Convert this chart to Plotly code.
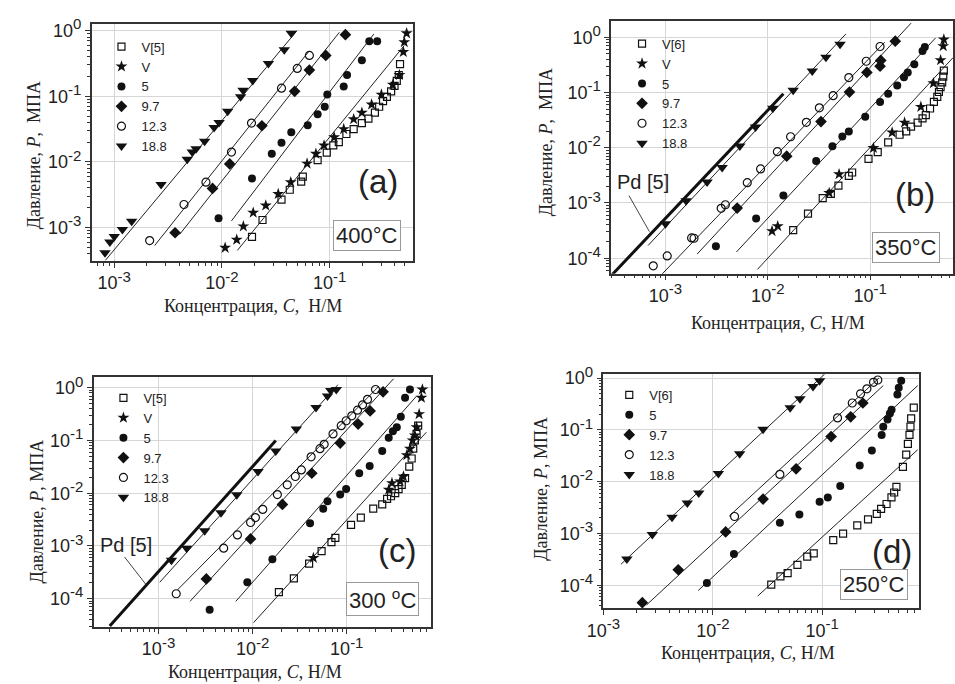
import plotly.graph_objects as go

W, H = 955, 684

# ================= DATA =================
# ---- panel (a) 400 C ----
a_V5_c = [0.019, 0.0238, 0.0357, 0.0426, 0.0544, 0.0563, 0.0773, 0.094, 0.108, 0.1216, 0.143, 0.167, 0.199, 0.229, 0.263, 0.288, 0.313, 0.34, 0.372, 0.40, 0.42, 0.438, 0.45]
a_V5_p = [7.2e-4, 1.3e-3, 2.66e-3, 3.76e-3, 5.0e-3, 5.96e-3, 0.0106, 0.0138, 0.0178, 0.020, 0.0266, 0.0316, 0.0389, 0.0457, 0.0562, 0.0692, 0.0841, 0.0977, 0.119, 0.144, 0.172, 0.211, 0.309]
a_V_c = [0.0107, 0.0137, 0.0158, 0.0195, 0.0255, 0.0333, 0.0435, 0.0617, 0.0745, 0.0887, 0.11, 0.135, 0.167, 0.199, 0.245, 0.302, 0.386, 0.444, 0.483, 0.493, 0.518]
a_V_p = [4.9e-4, 6.5e-4, 1.04e-3, 1.68e-3, 2.16e-3, 3.24e-3, 4.9e-3, 9.4e-3, 0.0133, 0.0178, 0.0237, 0.0316, 0.0447, 0.0562, 0.075, 0.106, 0.15, 0.211, 0.473, 0.668, 0.912]
a_5_c = [9.3e-3, 0.019, 0.029, 0.0357, 0.044, 0.0625, 0.0773, 0.090, 0.095, 0.135, 0.145, 0.199, 0.233, 0.276]
a_5_p = [1.38e-3, 5.6e-3, 0.0133, 0.0195, 0.0282, 0.0363, 0.053, 0.069, 0.106, 0.141, 0.211, 0.355, 0.69, 0.69]
a_97_c = [3.67e-3, 8.17e-3, 0.0118, 0.0235, 0.0473, 0.0648, 0.092, 0.14]
a_97_p = [8.3e-4, 3.94e-3, 9.3e-3, 0.0355, 0.119, 0.251, 0.42, 0.87]
a_123_c = [2.13e-3, 4.44e-3, 7.1e-3, 0.01225, 0.0188, 0.0357, 0.050, 0.0648]
a_123_p = [6.3e-4, 2.24e-3, 4.9e-3, 0.0141, 0.039, 0.133, 0.266, 0.42]
a_188_c = [8.2e-4, 9.1e-4, 1.0e-3, 1.19e-3, 1.45e-3, 2.72e-3, 4.76e-3, 5.3e-3, 5.75e-3, 6.9e-3, 8.45e-3, 9.4e-3, 0.0113, 0.0149, 0.0157, 0.0193, 0.027, 0.0379, 0.044]
a_188_p = [4.1e-4, 6.0e-4, 7.3e-4, 9.3e-4, 1.24e-3, 4.5e-3, 0.011, 0.0141, 0.0158, 0.0207, 0.0335, 0.0398, 0.059, 0.098, 0.123, 0.174, 0.316, 0.513, 0.912]
a_fit_188_c, a_fit_188_p = [8.28e-4, 0.0497], [3.16e-4, 1.0]
a_fit_123_c, a_fit_123_p = [2.37e-3, 0.0634], [5.3e-4, 0.473]
a_fit_97_c, a_fit_97_p = [4.06e-3, 0.123], [7.9e-4, 0.944]
a_fit_5_c, a_fit_5_p = [0.01225, 0.257], [1.26e-3, 0.891]
a_fit_V_c, a_fit_V_p = [0.0139, 0.493], [4.47e-4, 0.596]

# ---- panel (b) 350 C ----
b_V6_c = [0.0177, 0.0247, 0.0344, 0.0413, 0.049, 0.0619, 0.0667, 0.0964, 0.1186, 0.15, 0.194, 0.225, 0.251, 0.291, 0.325, 0.35, 0.385, 0.42, 0.453, 0.47, 0.488, 0.506, 0.518, 0.525]
b_V6_p = [3.24e-4, 6.4e-4, 1.22e-3, 1.46e-3, 2.06e-3, 3.1e-3, 3.56e-3, 6.3e-3, 8.3e-3, 0.0125, 0.0172, 0.0197, 0.0242, 0.0285, 0.034, 0.039, 0.0513, 0.0675, 0.083, 0.102, 0.125, 0.153, 0.194, 0.248]
b_V_c = [0.011, 0.0125, 0.0398, 0.0497, 0.1076, 0.164, 0.217, 0.313, 0.415, 0.488, 0.518, 0.525]
b_V_p = [3.1e-4, 3.8e-4, 1.52e-3, 3.32e-3, 9.9e-3, 0.0189, 0.0285, 0.055, 0.147, 0.384, 0.691, 0.908]
b_5_c = [3.11e-3, 7.69e-3, 0.0142, 0.0297, 0.0428, 0.0535, 0.0619, 0.0895, 0.125, 0.15, 0.184, 0.214, 0.233, 0.27, 0.325, 0.342]
b_5_p = [1.64e-4, 5.24e-4, 1.36e-3, 5.74e-3, 0.0106, 0.016, 0.0197, 0.0365, 0.0675, 0.095, 0.134, 0.188, 0.231, 0.326, 0.562, 0.664]
b_97_c = [5.02e-3, 0.0153, 0.0331, 0.0628, 0.0929, 0.125, 0.127, 0.176]
b_97_p = [8.1e-4, 7.05e-3, 0.0297, 0.1017, 0.231, 0.30, 0.38, 0.849]
b_123_c = [7.6e-4, 1.04e-3, 1.8e-3, 1.9e-3, 3.5e-3, 3.85e-3, 6.3e-3, 8.5e-3, 0.0124, 0.0167, 0.0238, 0.0319, 0.0435, 0.0619, 0.0916, 0.125]
b_123_p = [7.3e-5, 1.1e-4, 2.33e-4, 2.3e-4, 8.0e-4, 9.3e-4, 2.33e-3, 4.14e-3, 8.5e-3, 0.0158, 0.0289, 0.0527, 0.0875, 0.186, 0.368, 0.68]
b_188_c = [1.0e-3, 1.59e-3, 2.55e-3, 3.58e-3, 5.33e-3, 7.59e-3, 0.0112, 0.0177, 0.0272, 0.037, 0.0508]
b_188_p = [4.2e-4, 1.1e-3, 2.4e-3, 4.4e-3, 0.0108, 0.0238, 0.052, 0.11, 0.244, 0.434, 0.75]
b_pd_c, b_pd_p = [3.0e-4, 0.0142], [5.0e-5, 0.095]
b_fit_188_c, b_fit_188_p = [6.76e-4, 0.058], [1.7e-4, 1.15]
b_fit_123_c, b_fit_123_p = [9.2e-4, 0.139], [5.1e-5, 0.815]
b_fit_97_c, b_fit_97_p = [2.04e-3, 0.251], [1.19e-4, 1.8]
b_fit_5_c, b_fit_5_p = [4.94e-3, 0.436], [1.3e-4, 0.973]
b_fit_V_c, b_fit_V_p = [7.92e-3, 0.646], [6.28e-5, 0.428]
b_lead_c, b_lead_p = [4.4e-4, 6.97e-4], [1.36e-3, 3.03e-4]

# ---- panel (c) 300 C ----
c_V5_c = [0.019, 0.0274, 0.0398, 0.054, 0.0687, 0.0756, 0.111, 0.141, 0.191, 0.238, 0.268, 0.295, 0.327, 0.355, 0.384, 0.416, 0.461, 0.489, 0.508, 0.529, 0.551, 0.573]
c_V5_p = [1.33e-4, 2.43e-4, 4.64e-4, 8.0e-4, 1.18e-3, 1.42e-3, 2.52e-3, 3.46e-3, 5.1e-3, 6.14e-3, 7.83e-3, 8.79e-3, 0.0101, 0.012, 0.0145, 0.0194, 0.032, 0.0457, 0.0703, 0.101, 0.134, 0.192]
c_V_c = [0.0442, 0.279, 0.302, 0.369, 0.40, 0.434, 0.469, 0.50, 0.529, 0.551, 0.587, 0.621, 0.636]
c_V_p = [5.93e-4, 0.0117, 0.0156, 0.0168, 0.0208, 0.0528, 0.0703, 0.101, 0.125, 0.179, 0.318, 0.65, 0.931]
c_5_c = [3.49e-3, 8.77e-3, 0.0162, 0.0407, 0.0562, 0.0624, 0.0851, 0.0984, 0.1356, 0.175, 0.238, 0.279, 0.309, 0.34, 0.375, 0.416, 0.469]
c_5_p = [6.2e-5, 2.05e-4, 5.6e-4, 2.71e-3, 5.1e-3, 7.08e-3, 9.44e-3, 0.012, 0.024, 0.0329, 0.0637, 0.113, 0.151, 0.179, 0.283, 0.65, 0.931]
c_97_c = [3.22e-3, 9.49e-3, 0.0207, 0.0425, 0.0851, 0.132, 0.177, 0.243]
c_97_p = [2.37e-4, 1.36e-3, 6.14e-3, 0.024, 0.0898, 0.206, 0.366, 0.842]
c_123_c = [1.54e-3, 4.92e-3, 6.89e-3, 9.5e-3, 0.0107, 0.0128, 0.0183, 0.0233, 0.0284, 0.0329, 0.0418, 0.0519, 0.0575, 0.0714, 0.0873, 0.0985, 0.113, 0.13, 0.147, 0.166, 0.202]
c_123_p = [1.24e-4, 9.1e-4, 1.62e-3, 2.79e-3, 3.46e-3, 4.95e-3, 9.44e-3, 0.0145, 0.0208, 0.0277, 0.0492, 0.0703, 0.0848, 0.134, 0.192, 0.238, 0.295, 0.377, 0.474, 0.605, 0.931]
c_188_c = [1.37e-3, 1.99e-3, 3.09e-3, 4.61e-3, 6.78e-3, 0.0114, 0.0176, 0.0291, 0.0471, 0.0624, 0.0676, 0.0774]
c_188_p = [5.36e-4, 9.1e-4, 1.95e-3, 4.28e-3, 9.4e-3, 0.0258, 0.0637, 0.166, 0.423, 0.699, 0.892, 0.931]
c_pd_c, c_pd_p = [3.03e-4, 0.0176], [3.04e-5, 0.1]
c_fit_188_c, c_fit_188_p = [1.03e-3, 0.0805], [2.05e-4, 1.15]
c_fit_123_c, c_fit_123_p = [1.59e-3, 0.219], [1.47e-4, 1.07]
c_fit_97_c, c_fit_97_p = [2.16e-3, 0.314], [8.9e-5, 1.49]
c_fit_5_c, c_fit_5_p = [6.62e-3, 0.551], [8.9e-5, 0.698]
c_fit_V_c, c_fit_V_p = [0.0102, 0.70], [3.5e-5, 0.144]
c_lead_c, c_lead_p = [4.35e-4, 7.31e-4], [6.18e-4, 1.88e-4]

# ---- panel (d) 250 C ----
d_V6_c = [0.0342, 0.0415, 0.0483, 0.0593, 0.0729, 0.0836, 0.126, 0.155, 0.209, 0.262, 0.315, 0.345, 0.387, 0.429, 0.454, 0.476, 0.546, 0.585, 0.606, 0.627, 0.64, 0.649, 0.686]
d_V6_p = [1.03e-4, 1.48e-4, 1.72e-4, 2.48e-4, 3.56e-4, 4.13e-4, 7.4e-4, 9.9e-4, 1.43e-3, 1.86e-3, 2.39e-3, 2.97e-3, 3.7e-3, 4.96e-3, 6.17e-3, 7.9e-3, 0.0193, 0.0332, 0.0537, 0.0798, 0.115, 0.166, 0.268]
d_5_c = [8.83e-3, 0.0156, 0.041, 0.0618, 0.0946, 0.1124, 0.146, 0.22, 0.284, 0.349, 0.361, 0.395, 0.415, 0.43, 0.486, 0.50, 0.527]
d_5_p = [1.11e-4, 4.0e-4, 1.61e-3, 2.32e-3, 4.1e-3, 4.96e-3, 8.26e-3, 0.0205, 0.0401, 0.0798, 0.115, 0.158, 0.206, 0.245, 0.482, 0.645, 0.889]
d_97_c = [2.27e-3, 4.83e-3, 0.0131, 0.0288, 0.0577, 0.1205, 0.182, 0.235]
d_97_p = [4.6e-5, 1.99e-4, 1.07e-3, 4.6e-3, 0.0177, 0.0741, 0.178, 0.329]
d_123_c = [0.0158, 0.041, 0.138, 0.188, 0.224, 0.256, 0.294, 0.322]
d_123_p = [2.12e-3, 0.0138, 0.17, 0.329, 0.496, 0.617, 0.827, 0.916]
d_188_c = [1.64e-3, 2.8e-3, 4.24e-3, 5.85e-3, 7.44e-3, 0.01125, 0.0176, 0.0288, 0.0509, 0.0626, 0.0824, 0.0946]
d_188_p = [3.22e-4, 9.5e-4, 2.06e-3, 3.86e-3, 6.0e-3, 0.0144, 0.0347, 0.102, 0.268, 0.398, 0.684, 0.889]
d_fit_188_c, d_fit_188_p = [1.45e-3, 0.105], [2.55e-4, 1.19]
d_fit_123_c, d_fit_123_p = [0.0141, 0.33], [2.15e-3, 1.0]
d_fit_97_c, d_fit_97_p = [2.48e-3, 0.361], [4.16e-5, 0.714]
d_fit_5_c, d_fit_5_p = [7.35e-3, 0.745], [7.9e-5, 0.714]
d_fit_V_c, d_fit_V_p = [0.0257, 0.745], [6.17e-5, 0.0413]

# ================= STYLE =================
INK = "#111111"
SANS = "Liberation Sans, Arial, sans-serif"
SERIF = "Liberation Serif, Times New Roman, serif"

MARK = {
    "sq": dict(symbol="square-open", size=7, color=INK, line=dict(width=1.2, color=INK)),
    "star": dict(symbol="star", size=9, color=INK, line=dict(width=0)),
    "dot": dict(symbol="circle", size=8, color=INK, line=dict(width=0)),
    "dia": dict(symbol="diamond", size=9, color=INK, line=dict(width=0)),
    "ring": dict(symbol="circle-open", size=8, color=INK, line=dict(width=1.2, color=INK)),
    "tri": dict(symbol="triangle-down", size=10, color=INK, line=dict(width=0)),
}

panels = [
    dict(k="", box=(76, 13, 403, 254), xr=[-3.21, -0.228], yr=[-3.51, 0.105], xd=[-3, -2, -1], yd=[-3, -2, -1, 0],
         series=[("V[5]", "sq", a_V5_c, a_V5_p), ("V", "star", a_V_c, a_V_p), ("5", "dot", a_5_c, a_5_p),
                 ("9.7", "dia", a_97_c, a_97_p), ("12.3", "ring", a_123_c, a_123_p), ("18.8", "tri", a_188_c, a_188_p)],
         fits=[(a_fit_188_c, a_fit_188_p), (a_fit_123_c, a_fit_123_p), (a_fit_97_c, a_fit_97_p),
               (a_fit_5_c, a_fit_5_p), (a_fit_V_c, a_fit_V_p)],
         pd=None, lead=None, leg=(86, 21)),
    dict(k="2", box=(605, 10, 953, 267), xr=[-3.53, -0.19], yr=[-4.28, 0.297], xd=[-3, -2, -1], yd=[-4, -3, -2, -1, 0],
         series=[("V[6]", "sq", b_V6_c, b_V6_p), ("V", "star", b_V_c, b_V_p), ("5", "dot", b_5_c, b_5_p),
                 ("9.7", "dia", b_97_c, b_97_p), ("12.3", "ring", b_123_c, b_123_p), ("18.8", "tri", b_188_c, b_188_p)],
         fits=[(b_fit_188_c, b_fit_188_p), (b_fit_123_c, b_fit_123_p), (b_fit_97_c, b_fit_97_p),
               (b_fit_5_c, b_fit_5_p), (b_fit_V_c, b_fit_V_p)],
         pd=(b_pd_c, b_pd_p), lead=(b_lead_c, b_lead_p), leg=(616, 18)),
    dict(k="3", box=(78, 372, 422, 626), xr=[-3.69, -0.10], yr=[-4.536, 0.206], xd=[-3, -2, -1], yd=[-4, -3, -2, -1, 0],
         series=[("V[5]", "sq", c_V5_c, c_V5_p), ("V", "star", c_V_c, c_V_p), ("5", "dot", c_5_c, c_5_p),
                 ("9.7", "dia", c_97_c, c_97_p), ("12.3", "ring", c_123_c, c_123_p), ("18.8", "tri", c_188_c, c_188_p)],
         fits=[(c_fit_188_c, c_fit_188_p), (c_fit_123_c, c_fit_123_p), (c_fit_97_c, c_fit_97_p),
               (c_fit_5_c, c_fit_5_p), (c_fit_V_c, c_fit_V_p)],
         pd=(c_pd_c, c_pd_p), lead=(c_lead_c, c_lead_p), leg=(88, 378)),
    dict(k="4", box=(597, 369, 918, 607), xr=[-3.0, -0.119], yr=[-4.444, 0.076], xd=[-3, -2, -1], yd=[-4, -3, -2, -1, 0],
         series=[("V[6]", "sq", d_V6_c, d_V6_p), ("5", "dot", d_5_c, d_5_p),
                 ("9.7", "dia", d_97_c, d_97_p), ("12.3", "ring", d_123_c, d_123_p), ("18.8", "tri", d_188_c, d_188_p)],
         fits=[(d_fit_188_c, d_fit_188_p), (d_fit_123_c, d_fit_123_p), (d_fit_97_c, d_fit_97_p),
               (d_fit_5_c, d_fit_5_p), (d_fit_V_c, d_fit_V_p)],
         pd=None, lead=None, leg=(603, 375)),
]


def px(x):
    return x / W


def py(y):
    return 1 - y / H


def powlabel(d):
    return "10<sup><span style='font-size:15px'>%d</span></sup>" % d


fig = go.Figure()
layout = dict(width=W, height=H, margin=dict(l=0, r=0, t=0, b=0), paper_bgcolor="white",
              plot_bgcolor="white", showlegend=True, annotations=[])

for i, pn in enumerate(panels):
    k = pn["k"]
    xa, ya = "x" + k, "y" + k
    legname = "legend" + k
    for (fc, fp) in pn["fits"]:
        fig.add_trace(go.Scatter(x=fc, y=fp, mode="lines", line=dict(color="#222", width=1),
                                 xaxis=xa, yaxis=ya, showlegend=False, hoverinfo="skip"))
    if pn["pd"] is not None:
        fig.add_trace(go.Scatter(x=pn["pd"][0], y=pn["pd"][1], mode="lines", line=dict(color="#111", width=3),
                                 xaxis=xa, yaxis=ya, showlegend=False, hoverinfo="skip"))
        fig.add_trace(go.Scatter(x=pn["lead"][0], y=pn["lead"][1], mode="lines", line=dict(color="#444", width=1),
                                 xaxis=xa, yaxis=ya, showlegend=False, hoverinfo="skip"))
    for (name, st, c, p) in pn["series"]:
        fig.add_trace(go.Scatter(x=c, y=p, mode="markers", name=name, marker=MARK[st],
                                 xaxis=xa, yaxis=ya, legend=legname, showlegend=True))
    l, t, r, b = pn["box"]
    axcommon = dict(type="log", showline=True, mirror=True, linecolor="#333", linewidth=1.5,
                    showgrid=True, gridcolor="#d6d6d6", gridwidth=1, zeroline=False,
                    ticks="outside", ticklen=5, tickcolor="#333",
                    tickfont=dict(family=SANS, size=18, color="#222"))
    xminor = [m * 10.0 ** e for e in range(-4, 1) for m in range(2, 10)]
    layout["xaxis" + k] = dict(axcommon, domain=[px(l), px(r)], range=pn["xr"], anchor=ya,
                               tickmode="array", tickvals=[10.0 ** d for d in pn["xd"]],
                               ticktext=[powlabel(d) for d in pn["xd"]],
                               minor=dict(tickmode="array", tickvals=xminor, ticks="outside", ticklen=3,
                                          tickcolor="#333", showgrid=False))
    yminor = [m * 10.0 ** e for e in range(-5, 1) for m in range(2, 10)]
    layout["yaxis" + k] = dict(axcommon, domain=[py(b), py(t)], range=pn["yr"], anchor=xa,
                               tickmode="array", tickvals=[10.0 ** d for d in pn["yd"]],
                               ticktext=[powlabel(d) for d in pn["yd"]],
                               minor=dict(tickmode="array", tickvals=yminor, ticks="outside", ticklen=3,
                                          tickcolor="#333", showgrid=False))
    lx, ly = pn["leg"]
    layout[legname] = dict(x=px(lx), y=py(ly), xanchor="left", yanchor="top", bgcolor="rgba(0,0,0,0)",
                           font=dict(family=SANS, size=13, color="#222"), tracegroupgap=0)

ann = layout["annotations"]


def note(text, x, y, **kw):
    d = dict(text=text, x=px(x), y=py(y), xref="paper", yref="paper", showarrow=False,
             xanchor="center", yanchor="middle")
    d.update(kw)
    ann.append(d)


NB = "\u00a0"
xtitle_a = "Концентрация, <i>C</i>," + NB + " Н/М"
xtitle = "Концентрация, <i>C</i>, Н/М"
ytitle_2 = "Давление, <i>P</i>," + NB + " МПА"
ytitle_1 = "Давление, <i>P</i>, МПА"
for (tx, x, y) in [(xtitle_a, 240, 300), (xtitle, 775, 317), (xtitle, 242, 672), (xtitle, 744, 653)]:
    note(tx, x, y, font=dict(family=SERIF, size=18, color="#222"))
for (tx, x, y) in [(ytitle_2, 17, 147), (ytitle_2, 538, 133), (ytitle_1, 20, 509), (ytitle_1, 534, 485)]:
    note(tx, x, y, textangle=-90, font=dict(family=SERIF, size=18, color="#222"))
for (tx, x, y) in [("(a)", 368, 173), ("(b)", 914, 187), ("(c)", 387, 548), ("(d)", 891, 549)]:
    note(tx, x, y, font=dict(family=SANS, size=33, color="#222"))
for (tx, x, y) in [("400°C", 356, 228), ("350°C", 905, 240), ("300 <sup>o</sup>C", 372, 598), ("250°C", 873, 583)]:
    note(tx, x, y, font=dict(family=SANS, size=22, color="#222"), bordercolor="#999", borderwidth=1,
         borderpad=2, bgcolor="white")
for (x, y) in [(637, 174), (111, 543)]:
    note("Pd [5]", x, y, font=dict(family=SANS, size=20, color="#222"))

fig.update_layout(**layout)
fig.write_html("out.html")
